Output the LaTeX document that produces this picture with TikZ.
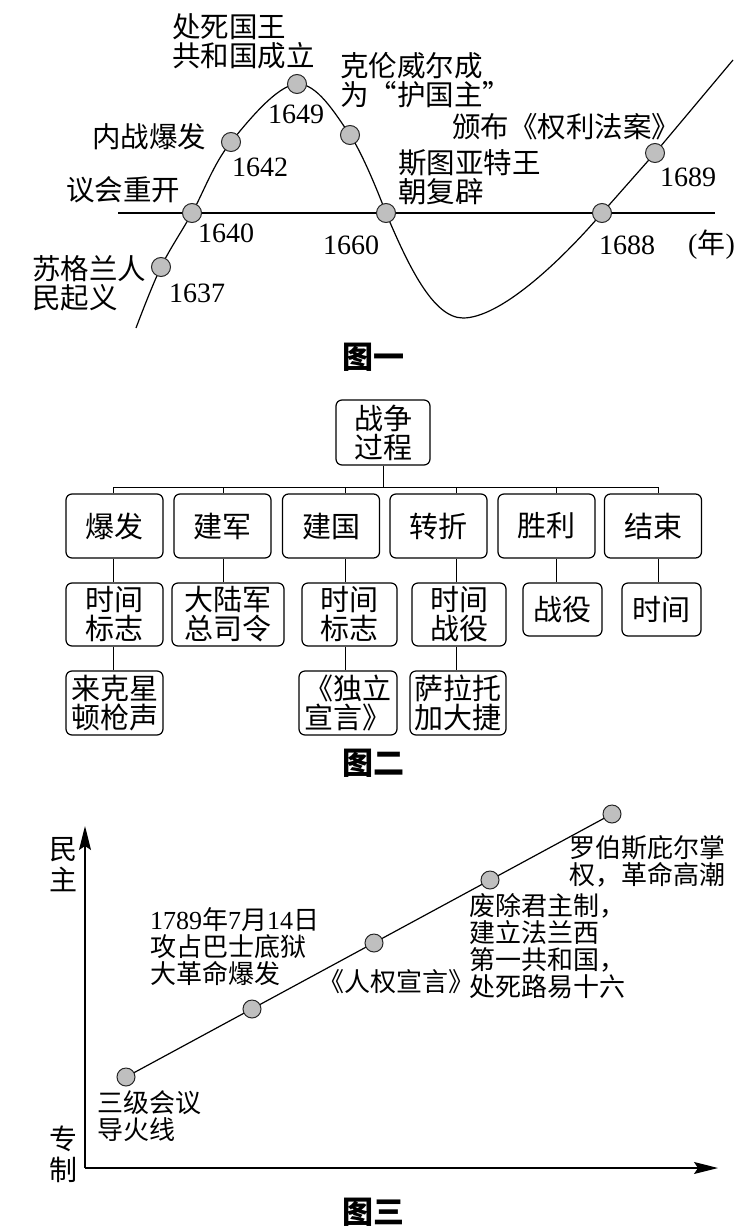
\documentclass[tikz,border=0pt]{standalone}
\usepackage{fontspec}
\setmainfont{Liberation Serif}
\newfontfamily\cjk{Noto Sans CJK SC}
\newcommand\tm[1]{{\rmfamily #1}}
\usetikzlibrary{arrows.meta}
\tikzset{
  ptdot/.style={circle, draw=black!85, fill=black!25, line width=1pt, minimum size=19pt, inner sep=0pt},
  lab/.style={font=\cjk\fontsize{28.5}{29}\selectfont, inner sep=0pt, align=left, anchor=west},
  labthree/.style={font=\cjk\fontsize{26}{27}\selectfont, inner sep=0pt, align=left, anchor=west},
  yr/.style={font=\rmfamily\fontsize{28}{30}\selectfont, inner sep=0pt, anchor=west},
  figcap/.style={font=\cjk\bfseries\fontsize{31}{31}\selectfont, inner sep=0pt},
  mybox/.style={draw, rounded corners=6pt, line width=1.2pt, font=\cjk\fontsize{29}{29}\selectfont, align=center, inner sep=0pt},
  lvtwo/.style={mybox, minimum width=97pt, minimum height=64pt},
  lvthree/.style={mybox, minimum height=63pt},
  mainline/.style={line width=1.2pt},
  thinline/.style={line width=1pt}
}
\begin{document}
\begin{tikzpicture}[x=1pt,y=-1pt]
\useasboundingbox (0,0) rectangle (746,1231);
%% ---------------- Figure 1 ----------------
\coordinate (axL) at (118,213);
\coordinate (axR) at (715,213);
\draw[mainline] (axL) -- (axR);
\draw[mainline] plot[smooth, tension=0.6] coordinates {(136,328) (161,267) (192,213) (231,142) (297,84) (350,135) (386,213)};
\draw[mainline] (386,213) .. controls (408,265) and (433,318) .. (463,318)
   .. controls (500,318) and (560,262) .. (602,213) -- (655,153) -- (733,60);
\node[ptdot] (d1637) at (161,267) {};
\node[ptdot] (d1640) at (192,213) {};
\node[ptdot] (d1642) at (231,142) {};
\node[ptdot] (d1649) at (297,84) {};
\node[ptdot] (dcrom) at (350,135) {};
\node[ptdot] (d1660) at (386,213) {};
\node[ptdot] (d1688) at (602,213) {};
\node[ptdot] (d1689) at (655,153) {};

\node[lab] (t1649) at (172,41) {处死国王\\共和国成立};
\node[lab] (tcrom) at (340,80) {克伦威尔成\\为“护国主”};
\node[yr, anchor=center] (y1649) at (296,114) {1649};
\node[lab] (t1642) at (92,137) {内战爆发};
\node[yr] (y1642) at (232,167) {1642};
\node[lab] (t1689) at (452,127) {颁布《权利法案》};
\node[lab] (t1660) at (398,177) {斯图亚特王\\朝复辟};
\node[lab] (t1640) at (66,190) {议会重开};
\node[yr] (y1640) at (198,233) {1640};
\node[yr] (y1660) at (323,245) {1660};
\node[yr] (y1688) at (599,245) {1688};
\node[yr] (nian) at (688,245) {(\cjk 年\rmfamily )};
\node[yr] (y1689) at (660,177) {1689};
\node[lab] (t1637) at (32,283) {苏格兰人\\民起义};
\node[yr] (y1637) at (169,293) {1637};
\node[figcap] (cap1) at (373,357) {图一};

%% ---------------- Figure 2 ----------------
\node[mybox, minimum width=94pt, minimum height=65pt] (root) at (383,432.5) {战争\\过程};
\node[lvtwo] (b1) at (114.5,526) {爆发};
\node[lvtwo] (b2) at (222.5,526) {建军};
\node[lvtwo] (b3) at (331,526) {建国};
\node[lvtwo] (b4) at (438.5,526) {转折};
\node[lvtwo] (b5) at (546.5,526) {胜利};
\node[lvtwo] (b6) at (653,526) {结束};

\node[lvthree, minimum width=97pt] (c1) at (114.5,614.5) {时间\\标志};
\node[lvthree, minimum width=112pt] (c2) at (228,614.5) {大陆军\\总司令};
\node[lvthree, minimum width=95pt] (c3) at (349.5,614.5) {时间\\标志};
\node[lvthree, minimum width=94pt] (c4) at (459,614.5) {时间\\战役};
\node[mybox, minimum width=79pt, minimum height=53pt] (c5) at (562.5,609.5) {战役};
\node[mybox, minimum width=79pt, minimum height=53pt] (c6) at (661.5,609.5) {时间};

\node[lvthree, minimum width=97pt, minimum height=64pt] (e1) at (114.5,703) {来克星\\顿枪声};
\node[lvthree, minimum width=98pt, minimum height=64pt] (e3) at (348,703) {《独立\\宣言》};
\node[lvthree, minimum width=96pt, minimum height=64pt] (e4) at (458,703) {萨拉托\\加大捷};

\coordinate (t1) at (113,487);
\coordinate (t2) at (223,487);
\coordinate (t3) at (345,487);
\coordinate (t4) at (456,487);
\coordinate (t5) at (556,487);
\coordinate (t6) at (658,487);
\draw[thinline] (t1) -- (t6);
\draw[thinline] (root.south) -- (root.south |- t1);
\foreach \i in {1,...,6}{
  \draw[thinline] (t\i) -- (t\i |- b\i.north);
  \draw[thinline] (b\i.south -| t\i) -- (c\i.north -| t\i);
}
\draw[thinline] (c1.south -| t1) -- (e1.north -| t1);
\draw[thinline] (c3.south -| t3) -- (e3.north -| t3);
\draw[thinline] (c4.south -| t4) -- (e4.north -| t4);
\node[figcap] (cap2) at (373,763) {图二};

%% ---------------- Figure 3 ----------------
\coordinate (O) at (85,1168);
\coordinate (ytip) at (85,826);
\coordinate (xtip) at (718,1168);
\draw[mainline, -{Stealth[length=24pt,width=12pt,inset=4pt]}] (O) -- (ytip);
\draw[mainline, -{Stealth[length=24pt,width=12pt,inset=4pt]}] (O) -- (xtip);
\coordinate (pa) at (126,1077);
\coordinate (pe) at (612,814);
\draw[mainline] (pa) -- (pe);
\node[ptdot, minimum size=18pt] (p1) at (126,1077) {};
\node[ptdot, minimum size=18pt] (p2) at (252,1009) {};
\node[ptdot, minimum size=18pt] (p3) at (374,943) {};
\node[ptdot, minimum size=18pt] (p4) at (490,880) {};
\node[ptdot, minimum size=18pt] (p5) at (612,814) {};

\node[font=\cjk\fontsize{28}{31}\selectfont, inner sep=0pt, align=center] (minzhu) at (63,865) {民\\主};
\node[font=\cjk\fontsize{28}{31}\selectfont, inner sep=0pt, align=center] (zhuanzhi) at (63,1154) {专\\制};
\node[labthree] (s1) at (97,1116) {三级会议\\导火线};
\node[labthree] (s2) at (150,947) {\tm{1789}年\tm{7}月\tm{14}日\\攻占巴士底狱\\大革命爆发};
\node[labthree] (s3) at (318,982) {《人权宣言》};
\node[labthree] (s4) at (469,946) {废除君主制，\\建立法兰西\\第一共和国，\\处死路易十六};
\node[labthree] (s5) at (569,861) {罗伯斯庇尔掌\\权，革命高潮};
\node[figcap] (cap3) at (373,1212) {图三};
\end{tikzpicture}
\end{document}
